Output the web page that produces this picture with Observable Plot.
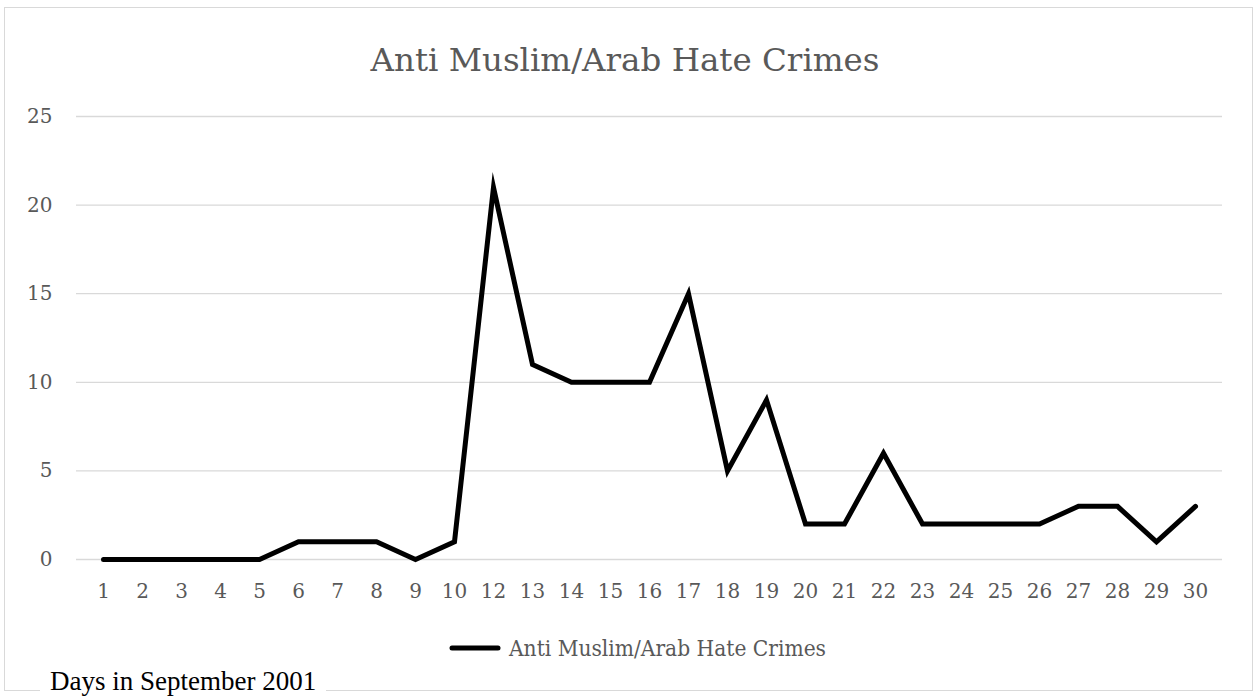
<!DOCTYPE html>
<html>
<head>
<meta charset="utf-8">
<script src="https://cdn.jsdelivr.net/npm/d3@7"></script>
<script src="https://cdn.jsdelivr.net/npm/@observablehq/plot@0.6"></script>
<style>
  body { margin: 0; background: #fff; width: 1258px; height: 700px; position: relative; overflow: hidden; }
  #frame { position: absolute; left: 4px; top: 7px; width: 1249px; height: 684px; border: 1.5px solid #d9d9d9; box-sizing: border-box; }
  #title { position: absolute; left: 0; width: 1250px; top: 41px; text-align: center; font-family: "DejaVu Serif", serif; font-size: 32.5px; color: #595959; }
  #chart { position: absolute; left: 0; top: 0; }
  #legend { position: absolute; left: 448px; top: 635px; display: flex; align-items: center; font-family: "DejaVu Serif Condensed", "DejaVu Serif", serif; font-size: 22.5px; color: #595959; }
  #legend svg { margin-right: 5px; }
  #xtitle { position: absolute; left: 40px; top: 665px; padding: 0 10px; background: #fff; font-family: "Liberation Serif", "Times New Roman", serif; font-size: 27px; color: #000; line-height: 32px; }
</style>
</head>
<body>
<div id="frame"></div>
<div id="title"></div>
<div id="chart"></div>
<div id="legend"></div>
<div id="xtitle">Days in September 2001</div>
<script>
const chartTitle = "Anti Muslim/Arab Hate Crimes";
const seriesName = "Anti Muslim/Arab Hate Crimes";
const days = ["1","2","3","4","5","6","7","8","9","10","12","13","14","15","16","17","18","19","20","21","22","23","24","25","26","27","28","29","30"];
const crimes = [0,0,0,0,0,1,1,1,0,1,21,11,10,10,10,15,5,9,2,2,6,2,2,2,2,3,3,1,3];
const yTicks = [0,5,10,15,20,25];

const data = days.map((d, i) => ({day: d, value: crimes[i]}));

document.getElementById("title").textContent = chartTitle;

const plot = Plot.plot({
  width: 1258,
  height: 620,
  marginLeft: 76,
  marginRight: 36,
  marginTop: 116,
  marginBottom: 61,
  style: { fontFamily: '"DejaVu Serif", serif', fontSize: "20px", color: "#595959", background: "transparent" },
  x: { type: "point", domain: days, padding: 0.5, label: null },
  y: { domain: [0, 25], label: null },
  marks: [
    Plot.ruleY(yTicks, { stroke: "#d9d9d9", strokeWidth: 1.3, strokeOpacity: 1 }),
    Plot.axisY(yTicks, { tickSize: 0, tickPadding: 24, label: null, fill: "#595959", fontSize: 20 }),
    Plot.axisX({ tickSize: 0, tickPadding: 24, label: null, fill: "#595959", fontSize: 20 }),
    Plot.line(data, { x: "day", y: "value", stroke: "#000", strokeWidth: 5, strokeLinecap: "round", strokeLinejoin: "miter", strokeMiterlimit: 10 })
  ]
});
document.getElementById("chart").appendChild(plot);

const legend = document.getElementById("legend");
legend.innerHTML = '<svg width="56" height="10"><line x1="4" y1="5" x2="50" y2="5" stroke="#000" stroke-width="5" stroke-linecap="round"/></svg>';
const span = document.createElement("span");
span.textContent = seriesName;
legend.appendChild(span);
</script>
</body>
</html>
